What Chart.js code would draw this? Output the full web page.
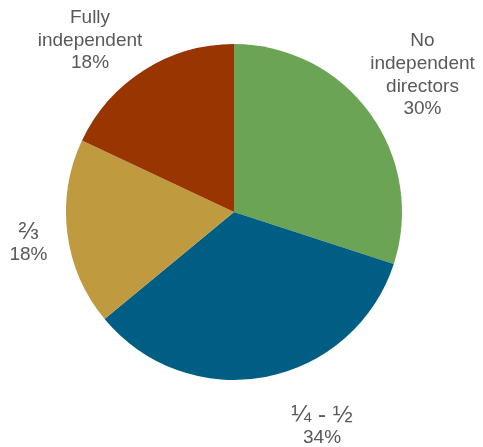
<!DOCTYPE html>
<html>
<head>
<meta charset="utf-8">
<script src="https://cdn.jsdelivr.net/npm/chart.js@4/dist/chart.umd.min.js"></script>
<style>
  html, body { margin: 0; padding: 0; background: #fff; }
  #wrap { width: 483px; height: 447px; }
</style>
</head>
<body>
<div id="wrap"><canvas id="board-chart"></canvas></div>
<script>
// Share of boards by level of director independence
const categories = ['No\nindependent\ndirectors', '\u00BC - \u00BD', '\u2154', 'Fully\nindependent'];
const shares = [30, 34, 18, 18];
const sliceColors = ['#6aa454', '#005e84', '#c09a3f', '#983500'];

// Where each label sits: distance from the centre (px) and angle shift (deg)
const labelDistance = [233, 232, 208, 224];
const labelAngleShift = [0, -11.5, -1.6, -7.6];

const baseFont = '19px "Liberation Sans", Arial, sans-serif';
const fractionFont = '24px "Liberation Sans", Arial, sans-serif';
const hasFraction = s => /[\u00BC\u00BD\u2154]/.test(s);

const outsideLabels = {
  id: 'outsideLabels',
  afterDraw(chart) {
    const ctx = chart.ctx;
    const meta = chart.getDatasetMeta(0);
    ctx.save();
    ctx.fillStyle = '#595959';
    ctx.textAlign = 'center';
    ctx.textBaseline = 'middle';
    const lineHeight = 22.7;
    meta.data.forEach((arc, i) => {
      const p = arc.getProps(['x', 'y', 'startAngle', 'endAngle'], true);
      const mid = (p.startAngle + p.endAngle) / 2 + labelAngleShift[i] * Math.PI / 180;
      const cx = p.x + Math.cos(mid) * labelDistance[i];
      const cy = p.y + Math.sin(mid) * labelDistance[i];
      const lines = categories[i].split('\n').concat(shares[i] + '%');
      const top = cy - (lines.length - 1) * lineHeight / 2;
      lines.forEach((line, j) => {
        ctx.font = hasFraction(line) ? fractionFont : baseFont;
        ctx.fillText(line, cx, top + j * lineHeight);
      });
    });
    ctx.restore();
  }
};

const ctx = document.getElementById('board-chart').getContext('2d');
new Chart(ctx, {
  type: 'pie',
  data: {
    labels: categories,
    datasets: [{
      data: shares,
      backgroundColor: sliceColors,
      borderWidth: 0
    }]
  },
  options: {
    responsive: true,
    maintainAspectRatio: false,
    animation: false,
    layout: { padding: { left: 66, right: 81, top: 44, bottom: 67 } },
    plugins: {
      legend: { display: false },
      tooltip: { enabled: false }
    }
  },
  plugins: [outsideLabels]
});
</script>
</body>
</html>
